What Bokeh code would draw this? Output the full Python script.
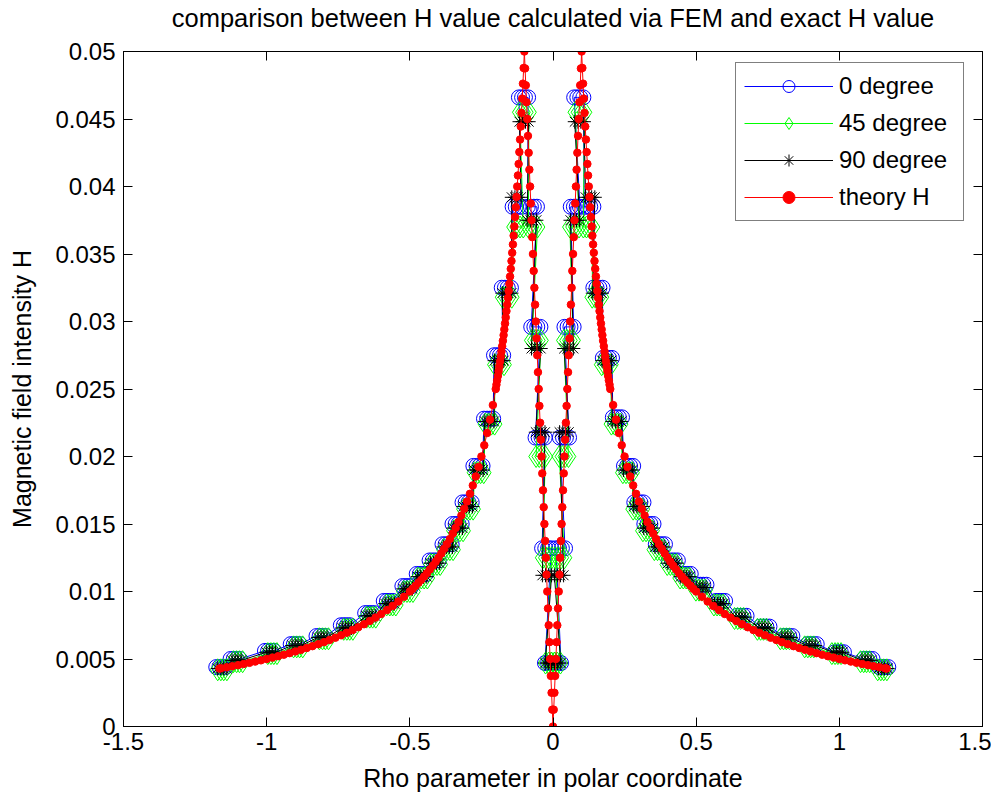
from bokeh.plotting import figure
from bokeh.models import (LinearAxis, FixedTicker, Legend, LegendItem, Range1d)
from bokeh.embed import file_html
from bokeh.resources import INLINE

FONT = "Liberation Sans"

# ---------------- data ----------------
title_text = "comparison between H value calculated via FEM and exact H value"
x_ticks = [-1.5, -1.0, -0.5, 0.0, 0.5, 1.0, 1.5]
x_tick_labels = ["-1.5", "-1", "-0.5", "0", "0.5", "1", "1.5"]
y_ticks = [0, 0.005, 0.01, 0.015, 0.02, 0.025, 0.03, 0.035, 0.04, 0.045, 0.05]
y_tick_labels = ["0", "0.005", "0.01", "0.015", "0.02", "0.025", "0.03", "0.035", "0.04", "0.045", "0.05"]

# theory H, left branch (outer part then inner part)
theory_rho_left = [
    -1.165, -1.16, -1.14, -1.12, -1.10, -1.08, -1.06, -1.04, -1.02, -1.00, -0.98, -0.96, -0.94, -0.92,
    -0.90, -0.88, -0.86, -0.84, -0.82, -0.80, -0.78, -0.76, -0.74, -0.72, -0.70, -0.68, -0.66, -0.64,
    -0.62, -0.60, -0.58, -0.56, -0.54, -0.52, -0.50, -0.49, -0.48, -0.47, -0.46, -0.45, -0.44, -0.43,
    -0.42, -0.41, -0.40, -0.39, -0.38, -0.37, -0.36, -0.35, -0.34, -0.33, -0.32, -0.31, -0.30, -0.29,
    -0.28, -0.27, -0.26, -0.25, -0.24, -0.23, -0.22, -0.21, -0.2, -0.1975, -0.195, -0.1925, -0.19,
    -0.1875, -0.185, -0.1825, -0.18, -0.1775, -0.175, -0.1725, -0.17, -0.1675, -0.165, -0.1625, -0.16,
    -0.1575, -0.155, -0.1525, -0.15, -0.1475, -0.145, -0.1425, -0.14, -0.1375, -0.135, -0.1325, -0.13,
    -0.1275, -0.125, -0.1225, -0.12, -0.1175, -0.115, -0.1125, -0.11, -0.1075, -0.105, -0.1025,
    -0.1, -0.0975, -0.095, -0.0925, -0.09, -0.0875, -0.085, -0.0825, -0.08, -0.0775, -0.075, -0.0725,
    -0.07, -0.0675, -0.065, -0.0625, -0.06, -0.0575, -0.055, -0.0525, -0.05, -0.0475, -0.045, -0.0425,
    -0.04, -0.0375, -0.035, -0.0325, -0.03, -0.0275, -0.025, -0.0225, -0.02, -0.0175, -0.015, -0.0125,
    -0.01, -0.0075, -0.005, -0.0025, 0.0]
theory_H_left = [
    0.004292, 0.00431, 0.004386, 0.004464, 0.004545, 0.00463, 0.004717, 0.004808, 0.004902, 0.005,
    0.005102, 0.005208, 0.005319, 0.005435, 0.005556, 0.005682, 0.005814, 0.005952, 0.006098, 0.00625,
    0.00641, 0.006579, 0.006757, 0.006944, 0.007143, 0.007353, 0.007576, 0.007813, 0.008065, 0.008333,
    0.008621, 0.008929, 0.009259, 0.009615, 0.01, 0.0102, 0.01042, 0.01064, 0.01087, 0.01111, 0.01136,
    0.01163, 0.0119, 0.0122, 0.0125, 0.01282, 0.01316, 0.01351, 0.01389, 0.01429, 0.01471, 0.01515,
    0.01563, 0.01613, 0.01667, 0.01724, 0.01786, 0.01852, 0.01923, 0.02, 0.02083, 0.02174, 0.02273,
    0.02381, 0.025, 0.02532, 0.02564, 0.02597, 0.02632, 0.02667, 0.02703, 0.0274, 0.02778, 0.02817,
    0.02857, 0.02899, 0.02941, 0.02985, 0.0303, 0.03077, 0.03125, 0.03175, 0.03226, 0.03279, 0.03333,
    0.0339, 0.03448, 0.03509, 0.03571, 0.03636, 0.03704, 0.03774, 0.03846, 0.03922, 0.04, 0.04082,
    0.04167, 0.04255, 0.04348, 0.04444, 0.04545, 0.04651, 0.04762, 0.04878,
    0.05, 0.04875, 0.0475, 0.04625, 0.045, 0.04375, 0.0425, 0.04125, 0.04, 0.03875, 0.0375, 0.03625,
    0.035, 0.03375, 0.0325, 0.03125, 0.03, 0.02875, 0.0275, 0.02625, 0.025, 0.02375, 0.0225, 0.02125,
    0.02, 0.01875, 0.0175, 0.01625, 0.015, 0.01375, 0.0125, 0.01125, 0.01, 0.00875, 0.0075, 0.00625,
    0.005, 0.00375, 0.0025, 0.00125, 0.0]

# theory H, right branch (inner part then outer part)
theory_rho_right = [
    0.0025, 0.005, 0.0075, 0.01, 0.0125, 0.015, 0.0175, 0.02, 0.0225, 0.025, 0.0275, 0.03, 0.0325,
    0.035, 0.0375, 0.04, 0.0425, 0.045, 0.0475, 0.05, 0.0525, 0.055, 0.0575, 0.06, 0.0625, 0.065,
    0.0675, 0.07, 0.0725, 0.075, 0.0775, 0.08, 0.0825, 0.085, 0.0875, 0.09, 0.0925, 0.095, 0.0975, 0.1,
    0.1025, 0.105, 0.1075, 0.11, 0.1125, 0.115, 0.1175, 0.12, 0.1225, 0.125, 0.1275, 0.13, 0.1325,
    0.135, 0.1375, 0.14, 0.1425, 0.145, 0.1475, 0.15, 0.1525, 0.155, 0.1575, 0.16, 0.1625, 0.165,
    0.1675, 0.17, 0.1725, 0.175, 0.1775, 0.18, 0.1825, 0.185, 0.1875, 0.19, 0.1925, 0.195, 0.1975, 0.2,
    0.21, 0.22, 0.23, 0.24, 0.25, 0.26, 0.27, 0.28, 0.29, 0.30, 0.31, 0.32, 0.33, 0.34, 0.35, 0.36,
    0.37, 0.38, 0.39, 0.40, 0.41, 0.42, 0.43, 0.44, 0.45, 0.46, 0.47, 0.48, 0.49, 0.50, 0.52, 0.54,
    0.56, 0.58, 0.60, 0.62, 0.64, 0.66, 0.68, 0.70, 0.72, 0.74, 0.76, 0.78, 0.80, 0.82, 0.84, 0.86,
    0.88, 0.90, 0.92, 0.94, 0.96, 0.98, 1.00, 1.02, 1.04, 1.06, 1.08, 1.10, 1.12, 1.14, 1.16, 1.165]
theory_H_right = [
    0.00125, 0.0025, 0.00375, 0.005, 0.00625, 0.0075, 0.00875, 0.01, 0.01125, 0.0125, 0.01375, 0.015,
    0.01625, 0.0175, 0.01875, 0.02, 0.02125, 0.0225, 0.02375, 0.025, 0.02625, 0.0275, 0.02875, 0.03,
    0.03125, 0.0325, 0.03375, 0.035, 0.03625, 0.0375, 0.03875, 0.04, 0.04125, 0.0425, 0.04375, 0.045,
    0.04625, 0.0475, 0.04875, 0.05,
    0.04878, 0.04762, 0.04651, 0.04545, 0.04444, 0.04348, 0.04255, 0.04167, 0.04082, 0.04, 0.03922,
    0.03846, 0.03774, 0.03704, 0.03636, 0.03571, 0.03509, 0.03448, 0.0339, 0.03333, 0.03279, 0.03226,
    0.03175, 0.03125, 0.03077, 0.0303, 0.02985, 0.02941, 0.02899, 0.02857, 0.02817, 0.02778, 0.0274,
    0.02703, 0.02667, 0.02632, 0.02597, 0.02564, 0.02532, 0.025,
    0.02381, 0.02273, 0.02174, 0.02083, 0.02, 0.01923, 0.01852, 0.01786, 0.01724, 0.01667, 0.01613,
    0.01563, 0.01515, 0.01471, 0.01429, 0.01389, 0.01351, 0.01316, 0.01282, 0.0125, 0.0122, 0.0119,
    0.01163, 0.01136, 0.01111, 0.01087, 0.01064, 0.01042, 0.0102, 0.01,
    0.009615, 0.009259, 0.008929, 0.008621, 0.008333, 0.008065, 0.007813, 0.007576, 0.007353, 0.007143,
    0.006944, 0.006757, 0.006579, 0.00641, 0.00625, 0.006098, 0.005952, 0.005814, 0.005682, 0.005556,
    0.005435, 0.005319, 0.005208, 0.005102, 0.005, 0.004902, 0.004808, 0.004717, 0.00463, 0.004545,
    0.004464, 0.004386, 0.00431, 0.004292]

# FEM results: each marker group in the picture is a small cluster of points
# spread horizontally around these centres
cluster_spread = [-0.016, -0.005, 0.005, 0.016]

# FEM, 0 degree (cluster centres)
fem0_rho = [-1.16, -1.11, -0.99, -0.90, -0.81, -0.725, -0.64, -0.575, -0.51, -0.46, -0.415, -0.37,
            -0.335, -0.30, -0.262, -0.225, -0.19, -0.163, -0.125, -0.103, -0.072, -0.06, -0.045,
            -0.022, -0.012,
            0.012, 0.026, 0.04, 0.056, 0.078, 0.09, 0.125, 0.157, 0.19, 0.225, 0.264, 0.30, 0.335,
            0.375, 0.42, 0.465, 0.52, 0.585, 0.66, 0.74, 0.82, 0.905, 1.0, 1.1, 1.155]
fem0_H = [0.0044, 0.0050, 0.0056, 0.0061, 0.0067, 0.0075, 0.0084, 0.0093, 0.0104, 0.0113, 0.0123,
          0.0135, 0.0150, 0.0166, 0.0193, 0.0228, 0.0275, 0.0325, 0.0385, 0.0466, 0.0385, 0.0296,
          0.0214, 0.0132, 0.0047,
          0.0047, 0.0132, 0.0214, 0.0296, 0.0385, 0.0466, 0.0385, 0.0325, 0.0273, 0.0229, 0.0193,
          0.0166, 0.0150, 0.0135, 0.0123, 0.0113, 0.0105, 0.0093, 0.0082, 0.0074, 0.0067, 0.0061,
          0.0055, 0.0050, 0.0044]

# FEM, 45 degree (cluster centres)
fem45_rho = [-1.155, -1.10, -0.98, -0.89, -0.80, -0.715, -0.635, -0.565, -0.505, -0.455, -0.41, -0.365,
             -0.33, -0.295, -0.258, -0.22, -0.187, -0.16, -0.12, -0.10, -0.07, -0.058, -0.043,
             -0.02, -0.01,
             0.01, 0.024, 0.038, 0.054, 0.075, 0.094, 0.122, 0.153, 0.186, 0.22, 0.26, 0.296, 0.33,
             0.37, 0.415, 0.46, 0.515, 0.578, 0.65, 0.73, 0.81, 0.895, 0.99, 1.09, 1.15]
fem45_H = [0.0042, 0.0048, 0.0054, 0.0059, 0.0065, 0.0072, 0.0081, 0.0090, 0.0100, 0.0110, 0.0120,
           0.0131, 0.0145, 0.0161, 0.0188, 0.0224, 0.0268, 0.0318, 0.0370, 0.0455, 0.0370, 0.0286,
           0.0200, 0.0125, 0.0047,
           0.0047, 0.0125, 0.0200, 0.0286, 0.0370, 0.0455, 0.0370, 0.0318, 0.0268, 0.0224, 0.0188,
           0.0161, 0.0145, 0.0131, 0.0120, 0.0110, 0.0101, 0.0090, 0.0080, 0.0072, 0.0065, 0.0059,
           0.0054, 0.0048, 0.0042]

# FEM, 90 degree (cluster centres)
fem90_rho = [-1.155, -1.105, -0.985, -0.895, -0.805, -0.72, -0.637, -0.57, -0.507, -0.457, -0.412,
             -0.367, -0.332, -0.297, -0.26, -0.222, -0.188, -0.161, -0.128, -0.101, -0.074, -0.059,
             -0.044, -0.021, -0.011,
             0.011, 0.021, 0.039, 0.055, 0.077, 0.092, 0.13, 0.155, 0.188, 0.223, 0.262, 0.298, 0.333,
             0.372, 0.417, 0.462, 0.518, 0.58, 0.655, 0.735, 0.815, 0.9, 0.995, 1.095, 1.153]
fem90_H = [0.0043, 0.0049, 0.0055, 0.0060, 0.0066, 0.0073, 0.0082, 0.0091, 0.0102, 0.0111, 0.0121,
           0.0133, 0.0147, 0.0163, 0.0190, 0.0226, 0.0271, 0.0321, 0.0392, 0.0448, 0.0375, 0.0280,
           0.0218, 0.0112, 0.0047,
           0.0047, 0.0112, 0.0218, 0.0280, 0.0375, 0.0448, 0.0392, 0.0321, 0.0271, 0.0226, 0.0190,
           0.0163, 0.0147, 0.0133, 0.0121, 0.0111, 0.0103, 0.0091, 0.0081, 0.0073, 0.0066, 0.0060,
           0.0055, 0.0049, 0.0043]

theory_rho = theory_rho_left + theory_rho_right
theory_H = theory_H_left + theory_H_right


def spread(rhos, hs):
    xs = [r + d for r in rhos for d in cluster_spread]
    ys = [h for h in hs for d in cluster_spread]
    return xs, ys


fem0_x, fem0_y = spread(fem0_rho, fem0_H)
fem45_x, fem45_y = spread(fem45_rho, fem45_H)
fem90_x, fem90_y = spread(fem90_rho, fem90_H)

# ---------------- figure ----------------
p = figure(width=991, height=800, output_backend="svg", toolbar_location=None,
           x_range=Range1d(-1.5, 1.5), y_range=Range1d(0, 0.05),
           min_border_left=123, min_border_right=9, min_border_top=51, min_border_bottom=74)
p.background_fill_color = "white"
p.border_fill_color = "white"
p.outline_line_color = "black"
p.outline_line_width = 1
p.grid.visible = False

for ax, ticks, labels in ((p.xaxis[0], x_ticks, x_tick_labels), (p.yaxis[0], y_ticks, y_tick_labels)):
    ax.ticker = FixedTicker(ticks=ticks)
    ax.major_label_overrides = {t: l for t, l in zip(ticks, labels)}
    ax.major_label_text_font = FONT
    ax.major_label_text_font_size = "24px"
    ax.major_label_text_color = "black"
    ax.major_tick_in = 9
    ax.major_tick_out = 0
    ax.minor_tick_line_color = None
    ax.axis_line_color = "black"
    ax.major_tick_line_color = "black"
    ax.axis_label_text_font = FONT
    ax.axis_label_text_font_size = "25px"
    ax.axis_label_text_font_style = "normal"
    ax.axis_label_text_color = "black"

p.xaxis[0].major_label_standoff = 6
p.yaxis[0].major_label_standoff = 8
p.xaxis[0].axis_label = "Rho parameter in polar coordinate"
p.yaxis[0].axis_label = "Magnetic field intensity H"
p.xaxis[0].axis_label_standoff = 11
p.yaxis[0].axis_label_standoff = 16

# box ticks on the top (carrying the chart title) and on the right; tick labels hidden
top = LinearAxis(ticker=FixedTicker(ticks=x_ticks), major_label_text_font_size="1px",
                 major_label_text_color=None, major_label_text_alpha=0,
                 major_tick_in=9, major_tick_out=0, minor_tick_line_color=None,
                 axis_line_color="black", major_label_standoff=0,
                 axis_label=title_text, axis_label_standoff=20,
                 axis_label_text_font=FONT, axis_label_text_font_size="25.5px",
                 axis_label_text_font_style="normal", axis_label_text_color="black")
p.add_layout(top, "above")
right = LinearAxis(ticker=FixedTicker(ticks=y_ticks), major_label_text_font_size="1px",
                   major_label_text_color=None, major_label_text_alpha=0,
                   major_tick_in=9, major_tick_out=0, minor_tick_line_color=None,
                   axis_line_color="black", major_label_standoff=0)
p.add_layout(right, "right")

# ---------------- series ----------------
l0 = p.line(fem0_x, fem0_y, line_color="#0000ff", line_width=1)
s0 = p.scatter(fem0_x, fem0_y, marker="circle", size=15, fill_color=None,
               line_color="#0000ff", line_width=1)
l45 = p.line(fem45_x, fem45_y, line_color="#00ff00", line_width=1)
s45 = p.scatter(fem45_x, fem45_y, marker="diamond", size=22, fill_color=None,
                line_color="#00ff00", line_width=1)
l90 = p.line(fem90_x, fem90_y, line_color="black", line_width=1)
s90 = p.scatter(fem90_x, fem90_y, marker="asterisk", size=14, line_color="black", line_width=1)
lt = p.line(theory_rho, theory_H, line_color="#ff0000", line_width=1)
st = p.scatter(theory_rho, theory_H, marker="circle", size=7.5, fill_color="#ff0000",
               line_color="#ff0000", line_width=1)

legend = Legend(items=[
    LegendItem(label="0 degree", renderers=[l0, s0]),
    LegendItem(label="45 degree", renderers=[l45, s45]),
    LegendItem(label="90 degree", renderers=[l90, s90]),
    LegendItem(label="theory H", renderers=[lt, st]),
], location=(612, 505))
legend.border_line_color = "black"
legend.border_line_width = 1
legend.background_fill_color = "white"
legend.background_fill_alpha = 1.0
legend.padding = 8
legend.spacing = 7
legend.margin = 0
legend.glyph_width = 89
legend.glyph_height = 30
legend.label_height = 30
legend.label_width = 116
legend.label_standoff = 6
legend.label_text_font = FONT
legend.label_text_font_size = "24px"
legend.label_text_color = "black"
p.add_layout(legend)

open("out.html", "w").write(file_html(p, INLINE))
